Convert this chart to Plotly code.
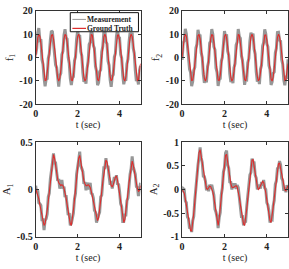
import plotly.graph_objects as go

# time samples (s)
t = [round(0.05 * k, 2) for k in range(101)]

# ---- f1 / f2 ground truth ----
f_truth = [0.0, 4.8, 8.4, 10.0, 9.1, 6.0, 1.4, -3.5, -7.6, -9.8,
           -9.6, -7.1, -2.8, 2.2, 6.6, 9.4, 9.9, 8.0, 4.1, -0.8,
           -5.4, -8.8, -10.0, -8.8, -5.4, -0.7, 4.2, 8.0, 9.9, 9.4,
           6.5, 2.1, -2.9, -7.1, -9.6, -9.8, -7.5, -3.4, 1.5, 6.1,
           9.1, 10.0, 8.4, 4.7, -0.1, -4.9, -8.5, -10.0, -9.1, -5.9,
           -1.3, 3.6, 7.6, 9.8, 9.6, 7.0, 2.7, -2.2, -6.6, -9.4,
           -9.9, -7.9, -4.0, 0.8, 5.5, 8.8, 10.0, 8.7, 5.3, 0.6,
           -4.3, -8.1, -9.9, -9.3, -6.4, -2.0, 3.0, 7.2, 9.6, 9.7,
           7.5, 3.3, -1.6, -6.1, -9.2, -10.0, -8.3, -4.6, 0.2, 5.0,
           8.5, 10.0, 9.0, 5.9, 1.2, -3.7, -7.7, -9.8, -9.5, -6.9,
           -2.6]

f1_meas = [1.3, 3.9, 10.5, 12.6, 7.5, 7.8, -0.8, -2.8, -8.7, -12.3,
           -9.3, -9.0, -0.4, 1.6, 7.6, 11.4, 11.0, 6.6, 4.3, -3.1,
           -4.3, -10.5, -12.4, -7.9, -6.7, 1.3, 2.7, 9.6, 12.1, 8.6,
           7.9, 0.1, -2.4, -8.9, -11.7, -8.8, -8.2, -1.3, 0.3, 7.8,
           11.4, 9.1, 9.6, 2.6, 0.7, -6.5, -10.4, -9.4, -11.1, -4.6,
           -1.7, 5.6, 6.6, 12.3, 10.0, 5.2, 4.0, -3.7, -5.7, -11.8,
           -10.7, -6.0, -5.2, 2.4, 4.8, 10.8, 11.5, 6.8, 5.9, -1.5,
           -3.3, -9.5, -12.5, -8.1, -7.3, 0.2, 1.7, 9.0, 12.0, 8.6,
           8.4, 1.3, -0.2, -7.6, -11.4, -9.3, -9.9, -2.7, -0.6, 6.5,
           10.6, 9.0, 10.7, 4.0, 1.9, -5.5, -10.0, -9.0, -11.5, -5.5,
           -3.5]

f2_meas = [-1.0, 6.4, 7.2, 12.3, 10.1, 4.1, 2.2, -5.0, -6.4, -12.2,
           -10.2, -5.4, -4.1, 4.1, 5.8, 11.9, 9.4, 9.3, 2.1, 0.1,
           -7.1, -10.8, -8.9, -10.6, -3.9, -1.8, 6.2, 7.1, 12.2, 10.0,
           4.7, 3.3, -4.5, -6.3, -12.1, -9.5, -9.0, -1.6, 0.1, 7.5,
           11.3, 8.8, 9.9, 2.8, 1.0, -6.8, -10.5, -9.0, -10.9, -4.3,
           -2.5, 5.4, 6.7, 12.2, 9.0, 8.3, 0.8, -1.1, -8.3, -11.6,
           -9.0, -9.3, -2.2, -0.4, 7.0, 10.6, 9.2, 10.3, 3.6, 1.6,
           -6.1, -10.3, -8.9, -11.3, -5.0, -3.3, 4.9, 6.5, 12.1, 10.2,
           5.9, 4.6, -3.4, -5.1, -11.7, -10.4, -6.7, -6.1, 2.0, 4.0,
           10.7, 10.8, 7.4, 7.0, -0.8, -2.8, -9.5, -11.8, -8.3, -8.4,
           -0.7]

# ---- A1 ----
a1_truth = [0.01, -0.02, -0.05, -0.10, -0.16, -0.22, -0.29, -0.34, -0.38, -0.36,
            -0.30, -0.22, -0.13, -0.02, 0.09, 0.20, 0.31, 0.37, 0.33, 0.25,
            0.17, 0.11, 0.07, 0.05, 0.04, 0.05, 0.04, 0.01, -0.03, -0.09,
            -0.16, -0.23, -0.30, -0.36, -0.38, -0.32, -0.22, -0.11, 0.01, 0.13,
            0.24, 0.33, 0.36, 0.29, 0.21, 0.14, 0.09, 0.06, 0.04, 0.04,
            0.05, 0.04, 0.02, -0.02, -0.07, -0.13, -0.19, -0.25, -0.30, -0.33,
            -0.30, -0.22, -0.12, -0.02, 0.08, 0.18, 0.26, 0.31, 0.29, 0.22,
            0.15, 0.09, 0.04, 0.03, 0.05, 0.09, 0.13, 0.14, 0.10, 0.03,
            -0.05, -0.13, -0.22, -0.30, -0.35, -0.32, -0.24, -0.14, -0.04, 0.07,
            0.17, 0.26, 0.30, 0.26, 0.19, 0.12, 0.06, 0.01, -0.02, -0.01,
            0.04]
a1_meas = [0.04, -0.04, -0.01, -0.14, -0.15, -0.17, -0.32, -0.32, -0.43, -0.33,
           -0.31, -0.26, -0.08, -0.04, 0.11, 0.24, 0.28, 0.38, 0.28, 0.28,
           0.20, 0.09, 0.11, 0.01, 0.05, 0.10, 0.01, 0.03, -0.08, -0.06,
           -0.17, -0.27, -0.25, -0.38, -0.36, -0.28, -0.25, -0.10, -0.04, 0.16,
           0.27, 0.31, 0.40, 0.25, 0.22, 0.19, 0.06, 0.08, -0.01, 0.07,
           0.04, 0.00, 0.07, -0.04, -0.05, -0.09, -0.22, -0.24, -0.35, -0.30,
           -0.27, -0.24, -0.08, -0.06, 0.09, 0.23, 0.23, 0.33, 0.24, 0.25,
           0.14, 0.05, 0.09, 0.01, 0.07, 0.13, 0.10, 0.15, 0.05, 0.06,
           -0.02, -0.15, -0.18, -0.34, -0.34, -0.27, -0.27, -0.12, -0.09, 0.10,
           0.16, 0.22, 0.35, 0.24, 0.21, 0.16, 0.03, 0.02, -0.07, 0.02,
           0.07]

# ---- A2 ----
a2_truth = [0.00, -0.03, -0.08, -0.20, -0.35, -0.50, -0.65, -0.78, -0.87, -0.88,
            -0.72, -0.50, -0.26, -0.02, 0.24, 0.50, 0.78, 0.84, 0.70, 0.50,
            0.34, 0.22, 0.10, 0.02, 0.00, 0.04, 0.07, 0.06, 0.01, -0.05,
            -0.18, -0.35, -0.52, -0.67, -0.76, -0.62, -0.40, -0.16, 0.06, 0.30,
            0.52, 0.72, 0.74, 0.56, 0.38, 0.24, 0.12, 0.05, 0.04, 0.05,
            0.07, 0.08, 0.05, -0.04, -0.16, -0.32, -0.48, -0.62, -0.73, -0.76,
            -0.62, -0.42, -0.20, 0.02, 0.24, 0.44, 0.62, 0.63, 0.48, 0.32,
            0.18, 0.07, 0.00, 0.02, 0.08, 0.14, 0.17, 0.15, 0.06, -0.07,
            -0.22, -0.38, -0.54, -0.66, -0.70, -0.56, -0.38, -0.18, 0.02, 0.20,
            0.38, 0.54, 0.56, 0.44, 0.30, 0.17, 0.06, -0.01, -0.03, 0.02,
            0.08]
a2_meas = [-0.06, 0.02, 0.00, -0.24, -0.28, -0.58, -0.62, -0.83, -0.78, -0.90,
           -0.66, -0.57, -0.22, 0.06, 0.18, 0.52, 0.69, 0.89, 0.67, 0.57,
           0.28, 0.27, 0.18, -0.02, 0.07, -0.04, 0.10, 0.01, 0.10, -0.07,
           -0.12, -0.42, -0.48, -0.59, -0.82, -0.60, -0.49, -0.11, 0.03, 0.37,
           0.46, 0.77, 0.82, 0.52, 0.45, 0.16, 0.15, 0.00, 0.13, 0.03,
           0.13, 0.01, 0.09, 0.04, -0.22, -0.30, -0.57, -0.57, -0.76, -0.69,
           -0.68, -0.37, -0.12, -0.02, 0.31, 0.36, 0.65, 0.58, 0.57, 0.30,
           0.24, 0.00, 0.04, 0.10, 0.02, 0.16, 0.08, 0.20, 0.03, 0.00,
           -0.28, -0.33, -0.46, -0.70, -0.63, -0.64, -0.35, -0.23, 0.11, 0.18,
           0.44, 0.47, 0.60, 0.52, 0.24, 0.19, -0.03, 0.04, -0.06, 0.09,
           0.02]

panels = [
    ("f<sub>1</sub>", f1_meas, f_truth, [-20, 20], 10, ["-20", "-10", "0", "10", "20"]),
    ("f<sub>2</sub>", f2_meas, f_truth, [-20, 20], 10, ["-20", "-10", "0", "10", "20"]),
    ("A<sub>1</sub>", a1_meas, a1_truth, [-0.5, 0.5], 0.5, ["-0.5", "0", "0.5"]),
    ("A<sub>2</sub>", a2_meas, a2_truth, [-1, 1], 0.5, ["-1", "-0.5", "0", "0.5", "1"]),
]
x_ticks = [0, 2, 4]
x_tick_labels = ["0", "2", "4"]
legend_names = ["Measurement", "Ground Truth"]

W, H = 289, 269
xdoms = [[33 / W, 139 / W], [181 / W, 288 / W]]
ydoms = [[1 - 103 / H, 1 - 5 / H], [1 - 241.5 / H, 1 - 142.5 / H]]

FONT = "Liberation Serif"
GRAY = "rgba(95,95,95,0.65)"
RED = "rgb(222,45,45)"

fig = go.Figure()
layout = {}
for i, (ttl, meas, truth, yr, dy, ylabels) in enumerate(panels):
    r, c = divmod(i, 2)
    n = "" if i == 0 else str(i + 1)
    xa, ya = "x" + n, "y" + n
    fig.add_trace(go.Scatter(x=t, y=meas, mode="lines", xaxis=xa, yaxis=ya,
                             line=dict(color=GRAY, width=3), showlegend=False,
                             hoverinfo="skip"))
    fig.add_trace(go.Scatter(x=t, y=truth, mode="lines", xaxis=xa, yaxis=ya,
                             line=dict(color=RED, width=1.1), showlegend=False))
    common = dict(showgrid=False, zeroline=False, showline=True, linecolor="#333",
                  linewidth=1, mirror="ticks", ticks="inside", ticklen=3,
                  tickcolor="#333",
                  tickfont=dict(family=FONT, size=10, color="#222", weight="bold"))
    layout["xaxis" + n] = dict(domain=xdoms[c], anchor=ya, range=[0, 5],
                               tickvals=x_ticks, ticktext=x_tick_labels,
                               title=dict(text="t (sec)", standoff=2,
                                          font=dict(family=FONT, size=10, color="#222")),
                               **common)
    ticks_vals = [yr[0] + dy * k for k in range(len(ylabels))]
    layout["yaxis" + n] = dict(domain=ydoms[r], anchor=xa, range=yr,
                               tickvals=ticks_vals, ticktext=ylabels,
                               title=dict(text=ttl, standoff=3,
                                          font=dict(family=FONT, size=11, color="#222")),
                               **common)

# manual legend inside the first panel (domain coords of x/y)
shapes = [
    dict(type="rect", xref="x domain", yref="y domain", x0=0.33, x1=0.98, y0=0.776, y1=0.98,
         line=dict(color="#111", width=1), fillcolor="white", layer="above"),
    dict(type="line", xref="x domain", yref="y domain", x0=0.35, x1=0.48, y0=0.908, y1=0.908,
         line=dict(color="rgb(150,150,150)", width=1), layer="above"),
    dict(type="line", xref="x domain", yref="y domain", x0=0.35, x1=0.48, y0=0.812, y1=0.812,
         line=dict(color=RED, width=1.2), layer="above"),
]
annotations = [
    dict(xref="x domain", yref="y domain", x=0.48, y=0.908, text="<b>" + legend_names[0] + "</b>",
         showarrow=False, xanchor="left", yanchor="middle", borderpad=0,
         font=dict(family=FONT, size=7.5, color="#222")),
    dict(xref="x domain", yref="y domain", x=0.48, y=0.812, text="<b>" + legend_names[1] + "</b>",
         showarrow=False, xanchor="left", yanchor="middle", borderpad=0,
         font=dict(family=FONT, size=7.5, color="#222")),
]

fig.update_layout(width=W, height=H, margin=dict(l=0, r=0, t=0, b=0),
                  plot_bgcolor="white", paper_bgcolor="white",
                  shapes=shapes, annotations=annotations, showlegend=False,
                  font=dict(family=FONT, color="#222"), **layout)
fig.write_html("out.html", config={"displayModeBar": False},
               post_script="document.body.style.margin='0px';document.body.style.overflow='hidden';")
